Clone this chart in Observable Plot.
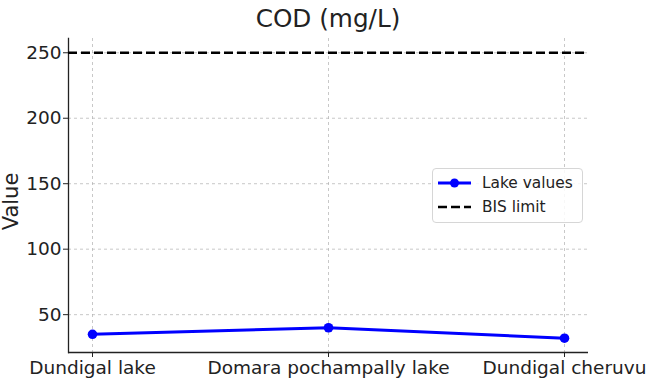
<!DOCTYPE html>
<html>
<head>
<meta charset="utf-8">
<script src="https://cdn.jsdelivr.net/npm/d3@7"></script>
<script src="https://cdn.jsdelivr.net/npm/@observablehq/plot@0.6"></script>
<style>
  body { margin: 0; background: #fff; }
  #wrap { position: relative; width: 662px; height: 386px; font-family: "DejaVu Sans", sans-serif; }
  #title { position: absolute; left: 68px; width: 520px; top: 4px; text-align: center; font-size: 24.7px; color: #222; line-height: normal; }
  #legend { position: absolute; left: 432px; top: 168px; width: 149px; height: 53px; border: 1px solid #d6d6d6; border-radius: 4px; background: rgba(255,255,255,0.85); font-size: 15.4px; color: #222; }
  .row { position: absolute; left: 5px; height: 20px; display: flex; align-items: center; }
  .row span { margin-left: 11px; }
</style>
</head>
<body>
<div id="wrap">
  <div id="title">COD (mg/L)</div>
</div>
<script>
const categories = ["Dundigal lake", "Domara pochampally lake", "Dundigal cheruvu"];
const values = [35, 40, 32];
const bisLimit = 250;
const yTicks = [50, 100, 150, 200, 250];
const seriesName = "Lake values";
const limitName = "BIS limit";

const data = categories.map((c, i) => ({lake: c, value: values[i]}));
const lo = Math.min(...values, bisLimit), hi = Math.max(...values, bisLimit);
const pad = (hi - lo) * 0.05;

const chart = Plot.plot({
  width: 662,
  height: 386,
  marginTop: 38,
  marginBottom: 34,
  marginLeft: 68,
  marginRight: 74,
  style: {fontFamily: "DejaVu Sans, sans-serif", fontSize: "18.5px", color: "#222", background: "#fff"},
  x: {type: "point", domain: categories, padding: 0.1},
  y: {domain: [lo - pad, hi + pad]},
  marks: [
    Plot.gridY(yTicks, {stroke: "#b0b0b0", strokeOpacity: 0.7, strokeDasharray: "3,3"}),
    Plot.gridX(categories, {stroke: "#b0b0b0", strokeOpacity: 0.7, strokeDasharray: "3,3"}),
    Plot.axisY(yTicks, {tickSize: 5, tickPadding: 2, fontSize: 18.5, label: null, stroke: "#222"}),
    Plot.axisX(categories, {tickSize: 5, tickPadding: 3, fontSize: 18.5, label: null, stroke: "#222"}),
    Plot.text(["Value"], {frameAnchor: "left", textAnchor: "middle", dx: -57, dy: 6, rotate: -90, fontSize: 21, fill: "#222"}),
    Plot.ruleY([lo - pad], {stroke: "#222", strokeWidth: 1.3}),
    Plot.frame({anchor: "left", stroke: "#222", strokeWidth: 1.3}),
    Plot.ruleY([bisLimit], {stroke: "#000", strokeWidth: 2.6, strokeDasharray: "9,4"}),
    Plot.line(data, {x: "lake", y: "value", stroke: "#0000ff", strokeWidth: 3}),
    Plot.dot(data, {x: "lake", y: "value", fill: "#0000ff", r: 4.8})
  ]
});
const wrap = document.getElementById("wrap");
wrap.insertBefore(chart, wrap.firstChild);

const legend = document.createElement("div");
legend.id = "legend";
const mk = (top, svg, label) => `<div class="row" style="top:${top}px">${svg}<span>${label}</span></div>`;
legend.innerHTML =
  mk(4, `<svg width="33" height="12"><line x1="0" y1="6" x2="33" y2="6" stroke="#0000ff" stroke-width="3"/><circle cx="16.5" cy="6" r="4.5" fill="#0000ff"/></svg>`, seriesName) +
  mk(28, `<svg width="33" height="12"><line x1="0" y1="6" x2="33" y2="6" stroke="#000" stroke-width="2.6" stroke-dasharray="9,4"/></svg>`, limitName);
wrap.appendChild(legend);
</script>
</body>
</html>
